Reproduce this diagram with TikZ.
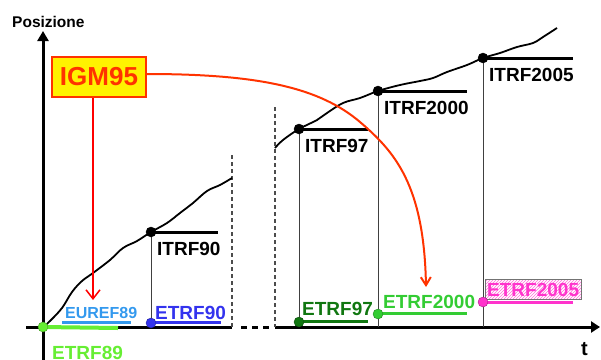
\documentclass[tikz,border=0pt]{standalone}
\usepackage{fontspec}
\setmainfont{Liberation Sans}
\usepackage{tikz}
\usetikzlibrary{arrows.meta}
\usetikzlibrary{patterns}

\definecolor{igmred}{HTML}{FF3300}
\definecolor{ciano}{HTML}{3399EE}
\definecolor{blu}{HTML}{3333EE}
\definecolor{verdechiaro}{HTML}{66EE33}
\definecolor{verdescuro}{HTML}{117711}
\definecolor{verde}{HTML}{33CC33}
\definecolor{rosa}{HTML}{FF33CC}

\tikzset{
  lab/.style={font=\bfseries\fontsize{19}{19}\selectfont, inner sep=0pt, anchor=base west},
  ptdot/.style={circle, inner sep=0pt, minimum size=10pt, draw=#1!65!black, fill=#1},
  bar/.style={line width=3pt},
  guide/.style={draw=black!75, line width=1pt},
  brk/.style={draw=black!70, line width=1.2pt, dash pattern=on 4pt off 3pt},
}

\newcommand{\itrf}[5]{ \coordinate (#1e) at (#4,#3); \coordinate (#1a) at (#2,327);
  \draw[guide] (#2,#3) -- (#1a); \draw[bar] (#2,#3) -- (#1e);
  \node[ptdot=black] (#1) at (#2,#3) {};
  \node[lab] (#1l) at (#2+6,#3+23) {#5};}

\begin{document}
\begin{tikzpicture}[x=1pt,y=-1pt]
        \useasboundingbox (0,0) rectangle (601,359);
        % axes
        \coordinate (o) at (43,327);
        \coordinate (ytop) at (43,31);
        \coordinate (ybot) at (43,362);
        \draw[line width=3pt, -{Triangle[length=10pt,width=11pt]}] (ybot) -- (ytop);
        \node[lab, font=\bfseries\fontsize{15.5}{15.5}\selectfont] (posiz) at (12,27) {Posizione};
        \coordinate (xa) at (26,327);
        \coordinate (xb) at (232,327);
        \coordinate (xc) at (241,327);
        \coordinate (xd) at (270,327);
        \coordinate (xe) at (275,327);
        \coordinate (xf) at (600,327);
        \draw[line width=3pt] (xa) -- (xb);
        \draw[line width=3pt, dash pattern=on 6pt off 5pt] (xc) -- (xd);
        \draw[line width=3pt, -{Triangle[length=9pt,width=11pt]}] (xe) -- (xf);
        \node[lab, font=\bfseries\fontsize{20}{20}\selectfont] (tlab) at (581,355) {t};
        % breaks
        \draw[brk] (232,155) -- (xb);
        \draw[brk] (275,107) -- (xe);
        % left curve
        \draw[line width=1.8pt] plot[smooth, tension=0.6] coordinates {(43,327) (50,321) (62,308) (72,292) (82,281) (93,273) (110,260) (123,248) (137,241) (151,232) (167,223) (180,213) (193,203) (207,191) (220,185) (232,178)};
        % right curve
        \draw[line width=1.8pt] plot[smooth, tension=0.6] coordinates {(275,148) (283,140) (299,129) (317,120) (327,113) (343,103) (360,98) (378,91) (400,85) (420,81) (433,78) (447,72) (467,65) (483,58) (500,53) (517,47) (533,43) (543,37) (557,28)};
        % ITRF
        \itrf{itrf90}{151}{232}{218}{ITRF90}
        \itrf{itrf97}{299}{129}{368}{ITRF97}
        \itrf{itrf2000}{378}{91}{467}{ITRF2000}
        \itrf{itrf2005}{483}{58}{573}{ITRF2005}
        % ETRF89
        \coordinate (e89e) at (118,328);
        \draw[line width=4pt, verdechiaro] (o) -- (e89e);
        \node[ptdot=verdechiaro] (etrf89) at (o) {};
        \node[lab, text=verdechiaro] (etrf89l) at (52,359) {ETRF89};
        % EUREF89
        \draw[line width=3pt, ciano] (62,322) -- (131,322);
        \node[lab, text=ciano, font=\bfseries\fontsize{16}{16}\selectfont] (euref89l) at (65,318) {EUREF89};
        % ETRF90
        \draw[line width=3pt, blu] (155,322) -- (221,322);
        \node[ptdot=blu] (etrf90) at (151,323) {};
        \node[lab, text=blu] (etrf90l) at (155,319) {ETRF90};
        % ETRF97
        \draw[line width=3pt, verdescuro] (299,321) -- (368,321);
        \node[ptdot=verdescuro] (etrf97) at (299,322) {};
        \node[lab, text=verdescuro] (etrf97l) at (302,315) {ETRF97};
        % ETRF2000
        \draw[line width=3pt, verde] (378,313) -- (467,313);
        \node[ptdot=verde] (etrf2000) at (378,314) {};
        \node[lab, text=verde] (etrf2000l) at (383,308) {ETRF2000};
        % ETRF2005
        \node[lab, text=rosa, draw=black!55, pattern=north east lines, pattern color=rosa!70,
              inner xsep=2pt, inner ysep=3.5pt] (etrf2005l) at (485,296) {ETRF2005};
        \draw[line width=3pt, rosa] (483,302) -- (573,302);
        \node[ptdot=rosa] (etrf2005) at (483,302) {};
        % IGM95
        \node[draw=igmred, line width=1.5pt, fill=yellow, text=igmred, minimum width=94pt, minimum height=40pt,
              inner sep=0pt, font=\bfseries\fontsize{26}{26}\selectfont] (igm) at (99,77) {IGM95};
        \coordinate (igmtip) at (93,300);
        \coordinate (curvtip) at (426,287);
        \draw[red, line width=1.5pt, -{Straight Barb[length=9pt,width=14pt]}] (igm.south -| igmtip) -- (igmtip);
        \draw[igmred, line width=2pt, -{Straight Barb[length=8pt,width=10pt]}] ([yshift=3pt]igm.east)
            .. controls (260,74) and (320,88) .. (360,122) .. controls (395,152) and (424,185) .. (curvtip);
\end{tikzpicture}
\end{document}
